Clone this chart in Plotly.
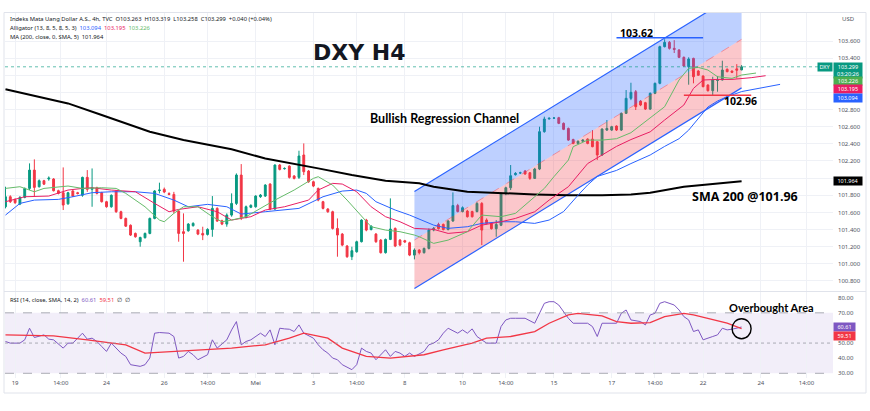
import plotly.graph_objects as go
from plotly.subplots import make_subplots

# ---------------- DATA ----------------
open_ = [101.666, 101.783, 101.75, 101.697, 101.775, 101.880, 102.094, 101.900, 101.970, 101.99,
         101.99, 101.853, 101.83, 101.70, 101.85, 101.83, 101.80, 102.009, 101.87, 101.888,
         101.83, 101.725, 101.666, 101.85, 101.608, 101.53, 101.45, 101.355, 101.258, 101.305,
         101.355, 101.53, 101.855, 101.87, 101.82, 101.81, 101.616, 101.375, 101.386, 101.445,
         101.394, 101.355, 101.343, 101.402, 101.647, 101.503, 101.464, 101.569, 101.705, 102.036,
         101.542, 101.66, 101.666, 101.783, 101.791, 101.931, 101.639, 102.153, 102.11, 102.14,
         102.025, 102.009, 102.27, 102.083, 101.958, 101.88, 101.725, 101.64, 101.608, 101.413,
         101.347, 101.208, 101.083, 101.141, 101.258, 101.511, 101.40, 101.347, 101.277, 101.13,
         101.285, 101.413, 101.277, 101.27, 101.246, 101.102, 101.161, 101.130, 101.180, 101.394,
         101.46, 101.46, 101.40, 101.50, 101.68, 101.61, 101.616, 101.61, 101.61, 101.705,
         101.511, 101.47, 101.41, 101.45, 101.82, 101.888, 102.04, 102.06, 102.083, 102.063,
         101.997, 102.106, 102.542, 102.69, 102.70, 102.705, 102.639, 102.58, 102.45, 102.405,
         102.43, 102.456, 102.456, 102.425, 102.27, 102.561, 102.561, 102.608, 102.561, 102.756,
         102.931, 103.008, 102.899, 102.88, 102.806, 102.989, 103.106, 103.534, 103.584, 103.514,
         103.495, 103.409, 103.30, 103.397, 103.25, 103.191, 103.086, 103.02, 103.14, 103.145,
         103.27, 103.25, 103.275, 103.263]
high = [101.900, 101.80, 101.765, 101.79, 101.89, 102.172, 102.219, 101.985, 101.98, 102.02,
        102.00, 101.865, 102.125, 101.84, 101.86, 101.84, 102.017, 102.094, 102.113, 101.90,
        101.84, 101.735, 101.81, 101.86, 101.62, 101.54, 101.46, 101.365, 101.316, 101.365,
        101.54, 101.86, 101.947, 101.89, 101.835, 101.84, 101.628, 101.589, 101.475, 101.485,
        101.405, 101.433, 101.415, 101.791, 101.66, 101.515, 101.589, 101.822, 102.055, 102.164,
        101.68, 101.695, 101.80, 101.815, 101.93, 101.94, 102.16, 102.165, 102.125, 102.15,
        102.035, 102.32, 102.405, 102.095, 101.97, 101.89, 101.735, 101.65, 101.62, 101.53,
        101.36, 101.22, 101.20, 101.27, 101.52, 101.525, 101.45, 101.36, 101.29, 101.295,
        101.764, 101.425, 101.29, 101.28, 101.258, 101.18, 101.17, 101.19, 101.413, 101.43,
        101.48, 101.47, 101.51, 101.834, 101.70, 101.67, 101.63, 101.62, 101.72, 101.72,
        101.53, 101.48, 101.51, 101.83, 101.90, 102.153, 102.07, 102.075, 102.095, 102.07,
        102.12, 102.600, 102.717, 102.71, 102.71, 102.715, 102.65, 102.59, 102.46, 102.44,
        102.455, 102.465, 102.561, 102.43, 102.58, 102.678, 102.61, 102.615, 102.765, 103.028,
        103.113, 103.028, 102.91, 102.89, 103.0, 103.115, 103.545, 103.62, 103.60, 103.61,
        103.505, 103.42, 103.41, 103.405, 103.26, 103.20, 103.095, 103.183, 103.19, 103.370,
        103.28, 103.255, 103.33, 103.319]
low = [101.647, 101.71, 101.70, 101.685, 101.765, 101.861, 101.783, 101.89, 101.92, 101.97,
       101.845, 101.81, 101.628, 101.69, 101.78, 101.81, 101.783, 101.84, 101.666, 101.81,
       101.715, 101.655, 101.655, 101.595, 101.52, 101.43, 101.325, 101.305, 101.200, 101.295,
       101.345, 101.52, 101.822, 101.825, 101.80, 101.589, 101.258, 101.025, 101.375, 101.435,
       101.335, 101.277, 101.33, 101.316, 101.49, 101.452, 101.433, 101.55, 101.686, 101.511,
       101.53, 101.65, 101.655, 101.77, 101.78, 101.625, 101.63, 102.09, 102.10, 101.995,
       101.985, 101.99, 102.036, 101.945, 101.895, 101.73, 101.635, 101.595, 101.40, 101.083,
       101.205, 101.07, 101.044, 101.13, 101.25, 101.38, 101.39, 101.245, 101.12, 101.12,
       101.277, 101.195, 101.205, 101.245, 101.09, 101.052, 101.11, 101.12, 101.168, 101.38,
       101.40, 101.39, 101.39, 101.49, 101.60, 101.60, 101.54, 101.54, 101.60, 101.219,
       101.46, 101.40, 101.316, 101.44, 101.80, 101.861, 102.03, 102.05, 102.04, 101.98,
       101.99, 102.094, 102.53, 102.685, 102.69, 102.63, 102.56, 102.435, 102.395, 102.395,
       102.425, 102.395, 102.36, 102.211, 102.26, 102.55, 102.55, 102.55, 102.55, 102.748,
       102.91, 102.795, 102.84, 102.795, 102.795, 102.98, 103.095, 103.525, 103.50, 103.46,
       103.40, 103.30, 103.09, 103.106, 103.195, 103.06, 103.01, 102.962, 103.008, 103.14,
       103.235, 103.225, 103.164, 103.258]
close_ = [101.783, 101.725, 101.713, 101.775, 101.880, 102.094, 101.892, 101.970, 101.93, 102.00,
          101.853, 101.822, 101.686, 101.83, 101.79, 101.82, 102.009, 101.869, 101.888, 101.822,
          101.725, 101.666, 101.80, 101.608, 101.53, 101.44, 101.336, 101.316, 101.308, 101.355,
          101.53, 101.85, 101.861, 101.838, 101.81, 101.616, 101.355, 101.355, 101.464, 101.472,
          101.347, 101.336, 101.402, 101.647, 101.499, 101.464, 101.569, 101.705, 102.036, 101.542,
          101.666, 101.682, 101.791, 101.803, 101.919, 101.639, 102.153, 102.102, 102.113, 102.009,
          101.997, 102.258, 102.075, 101.958, 101.908, 101.744, 101.647, 101.608, 101.413, 101.336,
          101.219, 101.083, 101.153, 101.258, 101.511, 101.394, 101.44, 101.258, 101.13, 101.285,
          101.406, 101.208, 101.219, 101.255, 101.102, 101.161, 101.130, 101.180, 101.394, 101.413,
          101.41, 101.40, 101.50, 101.68, 101.61, 101.655, 101.55, 101.55, 101.705, 101.394,
          101.472, 101.41, 101.46, 101.822, 101.888, 102.028, 102.055, 102.062, 102.048, 101.997,
          102.106, 102.542, 102.69, 102.698, 102.702, 102.639, 102.569, 102.444, 102.405, 102.43,
          102.444, 102.405, 102.367, 102.27, 102.573, 102.58, 102.600, 102.561, 102.756, 102.931,
          103.001, 102.833, 102.853, 102.806, 102.989, 103.106, 103.534, 103.584, 103.514, 103.502,
          103.409, 103.308, 103.39, 103.183, 103.20, 103.067, 103.020, 103.145, 103.145, 103.261,
          103.242, 103.234, 103.259, 103.299]

# Alligator lines (bar index, value)
jaw_x = [0, 3, 6, 11, 14, 18, 22, 27, 31, 35, 38, 42, 46, 49, 54, 61, 66, 70, 73, 75, 77, 81, 84, 86,
         89, 92, 96, 99, 103, 106, 110, 113, 116, 119, 121, 123, 127, 130, 134, 137, 140, 142, 144,
         146, 148, 150, 153, 157, 161]
jaw_y = [101.569, 101.705, 101.744, 101.752, 101.783, 101.830, 101.841, 101.841, 101.822, 101.744,
         101.666, 101.694, 101.666, 101.581, 101.608, 101.647, 101.783, 101.849, 101.861, 101.822,
         101.725, 101.628, 101.569, 101.519, 101.452, 101.414, 101.433, 101.472, 101.491, 101.491,
         101.472, 101.511, 101.61, 101.80, 101.92, 102.02, 102.09, 102.17, 102.27, 102.37, 102.46,
         102.56, 102.70, 102.83, 102.90, 102.95, 103.01, 103.05, 103.094]
teeth_x = [0, 4, 9, 13, 16, 18, 22, 27, 31, 34, 36, 40, 44, 47, 51, 54, 58, 63, 65, 68, 70, 73, 76,
           79, 82, 85, 89, 92, 96, 99, 103, 106, 110, 113, 117, 119, 121, 124, 127, 130, 134, 137,
           141, 143, 145, 148, 151, 155, 158]
teeth_y = [101.725, 101.783, 101.791, 101.861, 101.880, 101.888, 101.861, 101.841, 101.705, 101.608,
           101.635, 101.666, 101.608, 101.511, 101.550, 101.628, 101.666, 101.744, 101.861, 101.939,
           101.931, 101.841, 101.666, 101.550, 101.491, 101.414, 101.402, 101.355, 101.375, 101.452,
           101.491, 101.530, 101.608, 101.744, 101.900, 102.04, 102.17, 102.27, 102.37, 102.45,
           102.54, 102.678, 102.853, 103.047, 103.145, 103.152, 103.152, 103.172, 103.195]
lips_x = [0, 3, 6, 8, 13, 16, 20, 23, 25, 29, 32, 33, 35, 37, 40, 43, 45, 47, 50, 53, 56, 60, 64, 65,
          68, 71, 74, 76, 79, 82, 85, 86, 89, 92, 96, 99, 103, 106, 110, 112, 114, 117, 118, 121,
          124, 127, 130, 134, 137, 140, 142, 144, 146, 148, 151, 153, 156]
lips_y = [101.880, 101.900, 101.841, 101.880, 101.908, 101.880, 101.888, 101.880, 101.822, 101.666,
          101.511, 101.491, 101.589, 101.666, 101.666, 101.550, 101.491, 101.511, 101.550, 101.647,
          101.744, 101.861, 101.997, 102.017, 101.919, 101.744, 101.550, 101.433, 101.394, 101.375,
          101.336, 101.316, 101.239, 101.277, 101.375, 101.569, 101.550, 101.589, 101.783, 101.880,
          102.017, 102.211, 102.367, 102.444, 102.444, 102.46, 102.53, 102.70, 102.833, 103.145,
          103.281, 103.292, 103.261, 103.183, 103.164, 103.203, 103.226]
sma_x = [0, 13, 20, 27, 30, 37, 47, 54, 58, 65, 72, 79, 86, 89, 96, 103, 110, 117, 124, 130, 134,
         141, 148, 153]
sma_y = [103.036, 102.872, 102.736, 102.600, 102.542, 102.444, 102.336, 102.230, 102.191, 102.114,
         102.036, 101.970, 101.939, 101.900, 101.841, 101.822, 101.81, 101.80, 101.80, 101.81,
         101.83, 101.90, 101.939, 101.964]

# RSI (14) and its SMA
rsi_x = [0, 1, 3, 4, 5, 6, 8, 9, 10, 12, 13, 14, 16, 17, 18, 19, 20, 21, 22, 23, 24, 25, 26, 28, 29,
         30, 31, 32, 34, 35, 36, 37, 38, 39, 40, 42, 43, 44, 46, 47, 48, 49, 50, 51, 53, 54, 55, 56,
         57, 58, 59, 60, 61, 62, 64, 65, 66, 67, 68, 69, 70, 72, 73, 74, 75, 76, 77, 79, 80, 81, 82,
         83, 84, 85, 87, 88, 89, 90, 91, 92, 94, 95, 96, 97, 98, 99, 100, 102, 103, 104, 105, 106,
         107, 108, 110, 111, 112, 113, 114, 115, 116, 117, 118, 119, 121, 122, 123, 124, 125, 127,
         128, 129, 130, 132, 133, 134, 135, 136, 137, 139, 140, 141, 142, 143, 144, 145, 147, 148,
         149, 150, 151, 153]
rsi_y = [51.05, 49.95, 49.95, 52.14, 59.82, 53.68, 55.43, 52.58, 52.14, 46.66, 49.95, 49.95, 56.53,
         52.58, 53.24, 51.05, 47.76, 44.47, 49.95, 46.66, 43.37, 41.18, 35.70, 34.60, 35.70, 40.08,
         56.53, 56.97, 56.53, 54.34, 40.08, 41.18, 44.47, 42.28, 38.99, 42.28, 52.14, 46.66, 52.14,
         58.72, 64.21, 48.86, 51.05, 52.14, 56.53, 54.34, 58.72, 48.86, 59.82, 59.38, 59.16, 57.63,
         62.01, 56.53, 53.24, 48.86, 45.57, 43.37, 40.08, 38.99, 35.70, 32.41, 35.70, 46.66, 44.47,
         43.37, 38.99, 45.57, 41.18, 44.47, 43.37, 41.18, 43.37, 41.18, 44.47, 48.86, 49.95, 52.14,
         56.53, 59.82, 56.53, 58.72, 56.53, 59.38, 54.34, 52.14, 49.95, 49.95, 60.92, 65.30, 66.40,
         66.40, 66.40, 66.40, 63.11, 69.69, 76.27, 77.36, 77.36, 75.17, 70.79, 66.40, 63.11, 63.11,
         63.11, 60.92, 54.34, 63.11, 63.11, 63.11, 69.69, 71.88, 65.30, 64.21, 62.01, 68.59, 69.69,
         76.27, 77.36, 75.17, 71.88, 67.50, 65.30, 57.63, 58.72, 52.14, 54.34, 55.43, 59.82, 58.72,
         59.16, 60.61]
rsima_x = [0, 10, 17, 25, 29, 36, 43, 47, 54, 59, 62, 67, 70, 75, 80, 87, 91, 97, 100, 105, 110,
           113, 117, 119, 124, 127, 130, 134, 137, 141, 143, 147, 150, 153]
rsima_y = [55.43, 54.78, 52.14, 48.86, 43.37, 44.47, 46.0, 46.66, 48.86, 53.24, 56.53, 53.24, 46.66,
           41.18, 40.08, 42.28, 45.57, 49.95, 53.24, 54.34, 57.63, 63.11, 68.59, 69.69, 67.93, 64.21,
           63.11, 63.55, 67.50, 69.69, 68.59, 65.30, 63.11, 59.51]

# Regression channel (bar index start/end, mid value start/end, half width)
chan_x = [85, 153]
chan_mid = [101.278, 103.619]
chan_half = 0.566

# Drawn levels
high_level = 103.638
high_level_x = [127, 145]
low_level = 102.966
low_level_x = [141, 155]

# Time axis
tick_pos = [2, 11.5, 21, 33, 42, 52, 64, 73, 83, 95, 104, 114, 126, 135, 145, 157, 166.5]
tick_text = ["19", "14:00", "24", "26", "14:00", "Mei", "3", "14:00", "8", "10", "14:00",
             "15", "17", "14:00", "22", "24", "14:00"]
price_ticks = [100.8, 101.0, 101.2, 101.4, 101.6, 101.8, 102.0, 102.2, 102.4, 102.6, 102.8,
               103.0, 103.2, 103.4, 103.6]
price_hidden = [102.0, 103.0, 103.2]      # covered by the price-scale labels
rsi_ticks = [30, 40, 50, 60, 70, 80]
rsi_hidden = [60]

# ---------------- FIGURE ----------------
UP, DN = "#089981", "#f23645"
JAW, TEETH, LIPS = "#2962ff", "#e91e63", "#66bb6a"
RSI_C, RSIMA_C = "#7e57c2", "#f23645"
bars = list(range(len(close_)))

# layout geometry helpers (pixel -> paper)
L, R, T, B = 5, 833, 13, 378
def pxx(px):
    return (px - L) / (R - L)
def pxy(py):
    return (B - py) / (B - T)

fig = make_subplots(rows=2, cols=1, shared_xaxes=True, vertical_spacing=0.005)

up_line = [m + chan_half for m in chan_mid]
lo_line = [m - chan_half for m in chan_mid]
cx = [chan_x[0], chan_x[1], chan_x[1], chan_x[0], chan_x[0]]
fig.add_trace(go.Scatter(x=cx, y=[chan_mid[0], chan_mid[1], up_line[1], up_line[0], chan_mid[0]],
                         fill="toself", fillcolor="rgba(41,98,255,0.30)", mode="lines",
                         line=dict(width=0), hoverinfo="skip", showlegend=False), row=1, col=1)
fig.add_trace(go.Scatter(x=cx, y=[chan_mid[0], chan_mid[1], lo_line[1], lo_line[0], chan_mid[0]],
                         fill="toself", fillcolor="rgba(242,54,69,0.28)", mode="lines",
                         line=dict(width=0), hoverinfo="skip", showlegend=False), row=1, col=1)
fig.add_trace(go.Scatter(x=chan_x, y=up_line, mode="lines", line=dict(color="#2962ff", width=1.2),
                         hoverinfo="skip", showlegend=False), row=1, col=1)
fig.add_trace(go.Scatter(x=chan_x, y=lo_line, mode="lines", line=dict(color="#2962ff", width=1.2),
                         hoverinfo="skip", showlegend=False), row=1, col=1)
fig.add_trace(go.Scatter(x=chan_x, y=chan_mid, mode="lines",
                         line=dict(color="rgba(242,54,69,0.55)", width=0.8, dash="dash"),
                         hoverinfo="skip", showlegend=False), row=1, col=1)

# candles
fig.add_trace(go.Candlestick(x=bars, open=open_, high=high, low=low, close=close_,
                             increasing=dict(line=dict(color=UP, width=1), fillcolor=UP),
                             decreasing=dict(line=dict(color=DN, width=1), fillcolor=DN),
                             whiskerwidth=0, hoverinfo="skip", showlegend=False), row=1, col=1)

# indicator lines
fig.add_trace(go.Scatter(x=sma_x, y=sma_y, mode="lines", line=dict(color="#000000", width=2),
                         hoverinfo="skip", showlegend=False), row=1, col=1)
for xs, ys, col in [(jaw_x, jaw_y, JAW), (teeth_x, teeth_y, TEETH), (lips_x, lips_y, LIPS)]:
    fig.add_trace(go.Scatter(x=xs, y=ys, mode="lines", line=dict(color=col, width=1),
                             hoverinfo="skip", showlegend=False), row=1, col=1)

# drawn levels
fig.add_trace(go.Scatter(x=high_level_x, y=[high_level, high_level], mode="lines",
                         line=dict(color="#2962ff", width=1.5), hoverinfo="skip",
                         showlegend=False), row=1, col=1)
fig.add_trace(go.Scatter(x=low_level_x, y=[low_level, low_level], mode="lines",
                         line=dict(color=DN, width=1.5), hoverinfo="skip",
                         showlegend=False), row=1, col=1)

# RSI
fig.add_trace(go.Scatter(x=rsi_x, y=rsi_y, mode="lines", line=dict(color=RSI_C, width=1),
                         hoverinfo="skip", showlegend=False), row=2, col=1)
fig.add_trace(go.Scatter(x=rsima_x, y=rsima_y, mode="lines", line=dict(color=RSIMA_C, width=1.3),
                         hoverinfo="skip", showlegend=False), row=2, col=1)

tickfont = dict(family="Noto Sans", size=6, color="#50535e")
grid = "#eff1f6"
xcommon = dict(range=[-0.1, 172], tickvals=tick_pos, ticktext=tick_text, showgrid=True,
               gridcolor=grid, gridwidth=1, zeroline=False, showline=False, ticks="",
               tickfont=tickfont)
fig.update_xaxes(**xcommon)
fig.update_layout(xaxis=dict(showticklabels=False, rangeslider=dict(visible=False)),
                  xaxis2=dict(showticklabels=True))
price_text = ["" if v in price_hidden else f"{v:.3f}" for v in price_ticks]
rsi_text = ["" if v in rsi_hidden else f"{v:.2f}" for v in rsi_ticks]
fig.update_layout(
    yaxis=dict(domain=[pxy(291), 1], range=[103.6 - 250 / 85.71, 103.6 + 28 / 85.71],
               side="right", tickvals=price_ticks, ticktext=price_text, showgrid=True,
               gridcolor=grid, zeroline=False, ticks="", tickfont=tickfont,
               ticklabelstandoff=4),
    yaxis2=dict(domain=[0, pxy(292)], range=[26.9, 83.77], side="right", tickvals=rsi_ticks,
                ticktext=rsi_text, showgrid=False, zeroline=False, ticks="", tickfont=tickfont,
                ticklabelstandoff=4),
)

shapes = []
# RSI band and levels
shapes.append(dict(type="rect", xref="x2 domain", x0=0, x1=1, yref="y2", y0=30, y1=70,
                   fillcolor="rgba(126,87,194,0.10)", line=dict(width=0), layer="below"))
for lv, ds in [(70, "dash"), (50, "dot"), (30, "dash")]:
    shapes.append(dict(type="line", xref="x2 domain", x0=0, x1=1, yref="y2", y0=lv, y1=lv,
                       line=dict(color="#9598a1", width=0.8, dash=ds)))
# last price line
shapes.append(dict(type="line", xref="x domain", x0=0, x1=1, yref="y", y0=close_[-1], y1=close_[-1],
                   line=dict(color="rgba(8,153,129,0.8)", width=0.8, dash="dot")))
# overbought circle
shapes.append(dict(type="circle", xref="x2", yref="y2", xsizemode="pixel", ysizemode="pixel",
                   xanchor=bars[-1], x0=-9.5, x1=9.5, yanchor=rsima_y[-1], y0=-10, y1=10,
                   line=dict(color="#000000", width=1.4)))
# frame and pane separator
shapes.append(dict(type="rect", xref="paper", yref="paper", x0=pxx(4), x1=pxx(866),
                   y0=pxy(393), y1=pxy(12.5), line=dict(color="#e0e3eb", width=1)))
shapes.append(dict(type="line", xref="paper", yref="paper", x0=pxx(4), x1=pxx(866),
                   y0=pxy(291.5), y1=pxy(291.5), line=dict(color="#e0e3eb", width=1)))
fig.update_layout(shapes=shapes)

ann = []
def txt(text, px, py, size, family="Noto Sans", color="#131722", xanchor="center"):
    ann.append(dict(text=text, x=pxx(px), y=pxy(py), xref="paper", yref="paper",
                    xanchor=xanchor, yanchor="middle", showarrow=False,
                    font=dict(family=family, size=size, color=color)))

def box(text, y, yref, bg, yanchor="middle", yshift=0, xanchor="left", x=1, width=28, size=5.5):
    ann.append(dict(text=text, x=x, xref="paper", xanchor=xanchor, y=y, yref=yref,
                    yanchor=yanchor, yshift=yshift, showarrow=False, bgcolor=bg,
                    font=dict(family="Noto Sans", size=size, color="white"), borderpad=0,
                    width=width, align="center"))

chg = close_[-1] - close_[-2]
hdr1 = ("Indeks Mata Uang Dollar A.S., 4h, TVC  "
        f"O{open_[-1]:.3f}  H{high[-1]:.3f}  L{low[-1]:.3f}  C{close_[-1]:.3f}  "
        f"{chg:+.3f} ({chg / close_[-2] * 100:+.2f}%)")
hdr2 = (f"Alligator (13, 8, 5, 8, 5, 3)  <span style='color:{JAW}'>{jaw_y[-1]:.3f}</span>  "
        f"<span style='color:{TEETH}'>{teeth_y[-1]:.3f}</span>  "
        f"<span style='color:{LIPS}'>{lips_y[-1]:.3f}</span>")
hdr3 = f"MA (200, close, 0, SMA, 5)  {sma_y[-1]:.3f}"
hdr4 = (f"RSI (14, close, SMA, 14, 2)  <span style='color:{RSI_C}'>{rsi_y[-1]:.2f}</span>  "
        f"<span style='color:{RSIMA_C}'>{rsima_y[-1]:.2f}</span>  ∅  ∅")
txt(hdr1, 8, 19, 5.8, xanchor="left")
txt(hdr2, 8, 28, 5.8, xanchor="left")
txt(hdr3, 8, 37, 5.8, xanchor="left")
txt(hdr4, 8, 299.5, 5.8, xanchor="left")
txt("USD", 848, 19, 6, color="#50535e")

txt("<b>DXY H4</b>", 359, 52, 22, family="DejaVu Sans")
txt("<b>Bullish Regression Channel</b>", 444, 118, 12.5, family="Lato", color="#000000")
txt("<b>103.62</b>", 636, 33, 10.5, family="Open Sans", color="#000000")
txt("<b>102.96</b>", 740, 101, 10.5, family="Open Sans", color="#000000")
txt("<b>SMA 200 @101.96</b>", 745, 197, 12.5, family="Open Sans", color="#000000")
txt("<b>Overbought Area</b>", 771, 307.5, 11, family="Lato", color="#000000")

# price-scale labels
box("DXY", close_[-1], "y", UP, xanchor="right", width=14)
box(f"{close_[-1]:.3f}<br>03:20:26", pxy(62), "paper", UP, yanchor="top")
box(f"{lips_y[-1]:.3f}", pxy(81.2), "paper", "#4caf50")
box(f"{teeth_y[-1]:.3f}", pxy(89.5), "paper", TEETH)
box(f"{jaw_y[-1]:.3f}", pxy(97.8), "paper", JAW)
box(f"{sma_y[-1]:.3f}", sma_y[-1], "y", "#000000")
box(f"{rsi_y[-1]:.2f}", pxy(326.8), "paper", RSI_C, width=21)
box(f"{rsima_y[-1]:.2f}", pxy(335.5), "paper", RSIMA_C, width=21)

fig.update_layout(annotations=ann, width=870, height=411,
                  margin=dict(l=L, r=870 - R, t=T, b=411 - B),
                  paper_bgcolor="white", plot_bgcolor="white", boxgap=0.45,
                  font=dict(family="Noto Sans"), showlegend=False)

fig.write_html("out.html", config={"displayModeBar": False},
               post_script="document.body.style.margin='0';")
